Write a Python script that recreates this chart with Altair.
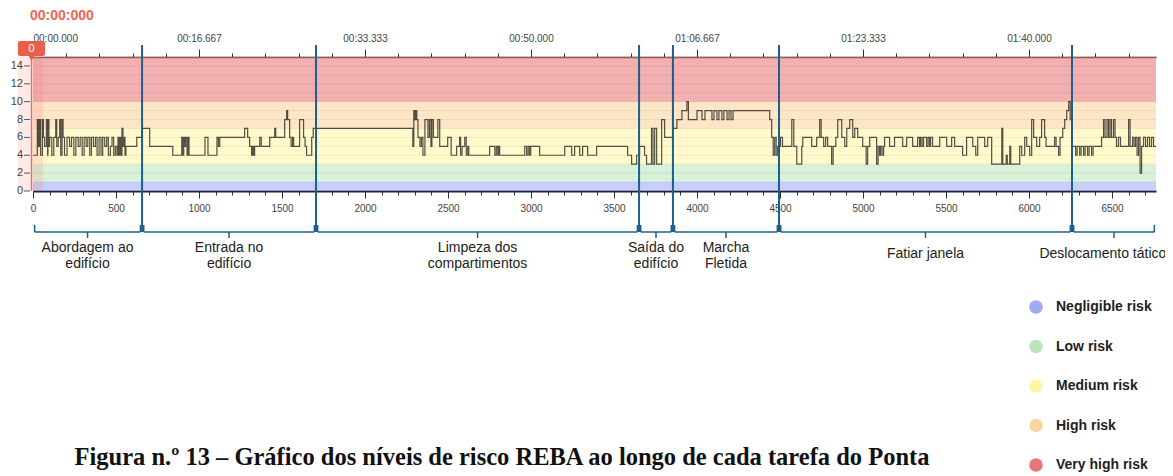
import altair as alt
import pandas as pd

# ---------------- data ----------------
X_MAX = 6765
W, H = 1123, 134

frames = [0, 26, 33, 40, 46, 57, 63, 70, 81, 88, 90, 96, 100, 113, 125, 137, 143, 152, 161, 167,
          175, 181, 190, 205, 220, 232, 246, 258, 272, 284, 296, 308, 320, 330, 342, 352, 364, 376,
          386, 398, 410, 420, 432, 444, 454, 466, 476, 486, 496, 506, 512, 518, 524, 530, 536, 542,
          548, 554, 560, 625, 655, 703, 842, 896, 902, 908, 914, 920, 928, 934, 940, 1036, 1054,
          1108, 1117, 1125, 1275, 1293, 1305, 1317, 1323, 1329, 1335, 1366, 1375, 1426, 1456, 1462,
          1516, 1528, 1534, 1546, 1555, 1564, 1570, 1606, 1630, 1639, 1648, 1679, 1688, 2288, 2294,
          2300, 2306, 2312, 2319, 2331, 2340, 2349, 2361, 2379, 2388, 2397, 2403, 2412, 2439, 2450,
          2498, 2519, 2552, 2570, 2576, 2585, 2601, 2610, 2619, 2625, 2751, 2782, 2791, 2800, 2806,
          2811, 2962, 2974, 2983, 2992, 2998, 3052, 3203, 3245, 3263, 3293, 3311, 3341, 3395, 3582,
          3606, 3636, 3654, 3684, 3696, 3726, 3735, 3745, 3757, 3787, 3805, 3854, 3879, 3909, 3939,
          3948, 4000, 4030, 4048, 4090, 4102, 4120, 4132, 4150, 4162, 4181, 4193, 4205, 4217, 4438,
          4450, 4459, 4468, 4477, 4486, 4503, 4515, 4571, 4583, 4601, 4631, 4637, 4691, 4721, 4739,
          4748, 4763, 4775, 4787, 4811, 4820, 4836, 4848, 4872, 4890, 4902, 4920, 4938, 4950, 4968,
          4998, 5019, 5028, 5040, 5082, 5091, 5100, 5106, 5115, 5124, 5130, 5160, 5190, 5239, 5263,
          5299, 5329, 5341, 5347, 5356, 5365, 5383, 5392, 5401, 5407, 5419, 5462, 5504, 5534, 5552,
          5600, 5624, 5661, 5679, 5691, 5733, 5751, 5775, 5836, 5842, 5863, 5869, 5884, 5890, 5944,
          5956, 5974, 5986, 6004, 6016, 6028, 6046, 6064, 6076, 6094, 6103, 6154, 6163, 6178, 6187,
          6203, 6215, 6227, 6239, 6248, 6257, 6281, 6290, 6305, 6314, 6329, 6338, 6353, 6362, 6377,
          6386, 6437, 6449, 6458, 6470, 6479, 6488, 6497, 6509, 6518, 6527, 6539, 6551, 6600, 6609,
          6624, 6633, 6642, 6651, 6660, 6669, 6678, 6690, 6702, 6714, 6726, 6738, 6750, 6765]
values = [4, 8, 5, 8, 4, 8, 6, 5, 8, 4, 8, 5, 6, 4, 6, 8, 5, 6, 8, 4,
          8, 6, 4, 6, 5, 6, 4, 6, 5, 6, 4, 6, 5, 6, 4, 6, 5, 6,
          4, 6, 4, 6, 5, 6, 4, 5, 6, 4, 5, 4, 6, 4, 6, 4, 7, 5,
          6, 4, 5, 6, 7, 5, 4, 6, 4, 6, 5, 6, 4, 6, 4, 6, 4,
          6, 5, 6, 7, 6, 5, 4, 5, 4, 5, 6, 5, 6, 7, 6,
          8, 9, 8, 6, 5, 6, 5, 8, 6, 5, 4, 6, 7, 5, 9,
          8, 9, 8, 6, 5, 6, 4, 8, 6, 8, 5, 8, 6, 8, 5,
          6, 4, 5, 6, 4, 5, 6, 4, 5, 4, 5, 4, 5, 4, 5,
          4, 5, 4, 5, 4, 5, 4, 5, 4, 5, 4, 5, 4, 5, 4,
          3, 4, 5, 4, 3, 7, 3, 7, 3, 8, 6, 7, 8, 9, 10,
          8, 9, 8, 9, 8, 9, 8, 9, 8, 9, 8, 9, 8, 9, 8,
          6, 4, 6, 4, 5, 6, 5, 8, 5, 3, 5, 6, 5, 6, 8,
          6, 5, 6, 5, 3, 5, 6, 8, 6, 5, 7, 8, 6, 7, 6,
          5, 3, 5, 6, 3, 5, 4, 5, 4, 5, 6, 5, 6, 5, 6,
          5, 6, 5, 6, 5, 6, 5, 6, 5, 6, 5, 6, 5, 6, 5,
          4, 6, 5, 4, 6, 5, 6, 3, 7, 3, 4, 3, 5, 3, 5,
          4, 6, 5, 4, 8, 6, 5, 6, 8, 6, 5, 6, 5, 4, 6,
          7, 8, 9, 10, 8, 5, 4, 5, 4, 5, 4, 5, 4, 5, 4,
          5, 6, 8, 6, 8, 6, 8, 6, 8, 6, 5, 6, 5, 8, 5,
          6, 5, 6, 4, 6, 2, 5, 6, 5, 6, 5, 6, 5, 5]

band_lo = [0, 1, 3, 7, 10]
band_hi = [1, 3, 7, 10, 15]
risk_names = ["Negligible risk", "Low risk", "Medium risk", "High risk", "Very high risk"]
risk_colors = ["#a1aaf7", "#bde5bd", "#fff5a5", "#fcd49d", "#ea7777"]
grid_levels = list(range(0, 16))
y_ticks = list(range(0, 15, 2))

seg_bounds = [0, 657, 1705, 3651, 3855, 4494, 6259, X_MAX]
seg_labels = ["Abordagem ao\nedifício", "Entrada no\nedifício", "Limpeza dos\ncompartimentos",
              "Saída do\nedifício", "Marcha\nFletida", "Fatiar janela", "Deslocamento tático"]

time_labels = ["00:00.000", "00:16.667", "00:33.333", "00:50.000",
               "01:06.667", "01:23.333", "01:40.000"]
clock_text = "00:00:000"
playhead_text = "0"
caption = "Figura n.º 13 – Gráfico dos níveis de risco REBA ao longo de cada tarefa do Ponta"

# ---------------- tables ----------------
line_df = pd.DataFrame({"frame": frames, "value": values})
bands_df = pd.DataFrame({"lo": band_lo, "hi": band_hi, "risk": risk_names})
grid_df = pd.DataFrame({"level": grid_levels})
yt_df = pd.DataFrame({"t": y_ticks})
vr_df = pd.DataFrame({"pos": seg_bounds[1:-1]})
GAP = 10
seg_df = pd.DataFrame({
    "s": [b + GAP for b in seg_bounds[:-1]],
    "e": [b - GAP for b in seg_bounds[1:]],
    "label": seg_labels,
})
seg_df["mid"] = (seg_df["s"] + seg_df["e"]) / 2
seg_df["lab_x"] = seg_df["mid"].clip(upper=X_MAX - 320)
# single-line labels sit a little lower than two-line ones
seg_df["ly"] = [195 if "\n" in t else 201 for t in seg_labels]
ends_df = pd.DataFrame({"p": list(seg_df["s"]) + list(seg_df["e"])})
one = pd.DataFrame({"a": [0]})

xs = alt.Scale(domain=[0, X_MAX], nice=False, zero=False)
ys = alt.Scale(domain=[0, 15], nice=False, zero=False)

FONT = "Liberation Sans"
BLUE = "#1c5f8c"

bottom_major = alt.Axis(orient="bottom", values=list(range(0, 6501, 500)), tickSize=7,
                        tickColor="#333", labelPadding=5, labelFontSize=10, labelColor="#444",
                        labelFont=FONT, domain=False, grid=False, title=None, format="d",
                        labelFlush=False, labelOverlap=False)
bottom_minor = alt.Axis(orient="bottom", values=list(range(0, 6701, 100)), tickSize=4,
                        tickColor="#333", labels=False, domain=True, domainColor="#22223a",
                        domainWidth=2, grid=False, title=None)
top_minor = alt.Axis(orient="top", values=list(range(0, 6601, 200)), tickSize=4,
                     tickColor="#333", labels=False, domain=True, domainColor="#333",
                     domainWidth=1.5, grid=False, title=None)
label_expr = "[" + ",".join("'%s'" % t for t in time_labels) + "][round(datum.value/1000)]"
top_major = alt.Axis(orient="top", values=list(range(0, 6001, 1000)), tickSize=8,
                     tickColor="#333", labelPadding=6, labelExpr=label_expr, labelFlush=True,
                     labelFontSize=10, labelColor="#444", labelFont=FONT, domain=False,
                     grid=False, title=None, labelOverlap=False)

# ---------------- layers ----------------
bands = alt.Chart(bands_df).mark_rect(opacity=0.58).encode(
    x=alt.value(0), x2=alt.value(W),
    y=alt.Y("lo:Q", scale=ys, axis=None), y2="hi:Q",
    color=alt.Color("risk:N", scale=alt.Scale(domain=risk_names, range=risk_colors),
                    legend=alt.Legend(orient="none", legendX=996, legendY=243, title=None,
                                      direction="vertical", symbolType="circle",
                                      symbolSize=184, symbolStrokeWidth=0, symbolOpacity=1,
                                      labelFontSize=14, labelFontWeight="bold",
                                      labelColor="#222", labelFont=FONT, labelOffset=13,
                                      rowPadding=25.5, padding=0)),
)

grid = alt.Chart(grid_df).mark_rule(color="#000", opacity=0.06, strokeWidth=1).encode(
    y=alt.Y("level:Q", scale=ys, axis=None), x=alt.value(0), x2=alt.value(W))

shade = alt.Chart(one).mark_rect(color="#f26b5b", opacity=0.14).encode(
    x=alt.value(-15), x2=alt.value(10), y=alt.value(0), y2=alt.value(H))

# y axis (ticks + labels) drawn from the tick list through the y scale
y_tick_marks = alt.Chart(yt_df).mark_rule(color="#555", strokeWidth=1).encode(
    y=alt.Y("t:Q", scale=ys, axis=None), x=alt.value(-9), x2=alt.value(-3))
y_tick_labels = alt.Chart(yt_df).mark_text(font=FONT, fontSize=11, color="#444",
                                           align="right", baseline="middle").encode(
    y=alt.Y("t:Q", scale=ys, axis=None), x=alt.value(-10), text="t:Q")

line = alt.Chart(line_df).mark_line(interpolate="step-after", color="#111",
                                    strokeWidth=1.2, opacity=0.72).encode(
    x=alt.X("frame:Q", scale=xs, axis=bottom_major),
    y=alt.Y("value:Q", scale=ys, axis=None))

playline = alt.Chart(one).mark_rule(color="#f07060", strokeWidth=1.5).encode(
    x=alt.value(-1.5), y=alt.value(0), y2=alt.value(H))

vrules = alt.Chart(vr_df).mark_rule(color=BLUE, strokeWidth=2).encode(
    x=alt.X("pos:Q", scale=xs, axis=bottom_minor), y=alt.value(-12), y2=alt.value(175))

br_h = alt.Chart(seg_df).mark_rule(color=BLUE, strokeWidth=1.5).encode(
    x=alt.X("s:Q", scale=xs, axis=top_minor), x2="e:Q", y=alt.value(175))
br_ends = alt.Chart(ends_df).mark_rule(color=BLUE, strokeWidth=1.5).encode(
    x=alt.X("p:Q", scale=xs, axis=None), y=alt.value(168), y2=alt.value(175))
br_mid = alt.Chart(seg_df).mark_rule(color=BLUE, strokeWidth=1.5).encode(
    x=alt.X("mid:Q", scale=xs, axis=None), y=alt.value(175), y2=alt.value(181))

seg_text = alt.Chart(seg_df).mark_text(font=FONT, fontSize=14, color="#222", align="center",
                                       baseline="alphabetic", lineBreak="\n",
                                       lineHeight=16).encode(
    x=alt.X("lab_x:Q", scale=xs, axis=top_major),
    y=alt.Y("ly:Q", scale=None, axis=None), text="label:N")

clock = alt.Chart(one).mark_text(text=clock_text, font=FONT, fontSize=14, fontWeight="bold",
                                 color="#ef6452", align="left", baseline="middle").encode(
    x=alt.value(-3), y=alt.value(-41))

tag = alt.Chart(one).mark_rect(color="#e8604c", cornerRadius=2).encode(
    x=alt.value(-15), x2=alt.value(12), y=alt.value(-16), y2=alt.value(-1))
tag_tip = alt.Chart(one).mark_point(shape="triangle-down", filled=True, color="#e8604c",
                                    opacity=1, size=45).encode(
    x=alt.value(-1.5), y=alt.value(1))
tag_text = alt.Chart(one).mark_text(text=playhead_text, font=FONT, fontSize=11, color="white",
                                    align="center", baseline="middle").encode(
    x=alt.value(-1.5), y=alt.value(-8.5))

cap = alt.Chart(one).mark_text(text=caption, font="Liberation Serif", fontSize=24.5,
                               fontWeight="bold", color="#111", align="center",
                               baseline="middle").encode(
    x=alt.value(469), y=alt.value(401))

chart = alt.layer(
    bands, grid, shade, y_tick_marks, y_tick_labels, line, playline, vrules, br_h, br_ends,
    br_mid, seg_text, clock, tag, tag_tip, tag_text, cap,
).resolve_axis(x="independent").properties(
    width=W, height=H,
    autosize=alt.AutoSizeParams(type="none"),
    padding={"left": 25, "top": 49, "right": 9, "bottom": 283},
).configure_view(stroke=None)

chart.save("out.html", embed_options={"renderer": "svg", "actions": False})
